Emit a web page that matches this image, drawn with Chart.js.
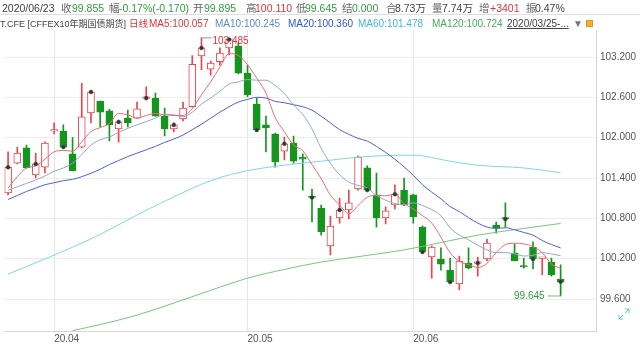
<!DOCTYPE html>
<html>
<head>
<meta charset="utf-8">
<script src="https://cdn.jsdelivr.net/npm/chart.js@4/dist/chart.umd.min.js"></script>
<style>
  html, body { margin: 0; padding: 0; background: #fff; }
  #wrap { position: relative; width: 640px; height: 346px; overflow: hidden;
    font-family: "Liberation Sans", "Noto Sans CJK SC", sans-serif; }
  #wrap canvas { position: absolute; left: 0; top: 0; }
  .t { position: absolute; white-space: nowrap; line-height: 12px; }
  .r1 { top: 2px; font-size: 10.5px; }
  .r2 { top: 18px; font-size: 10px; }
  .lb { color: #666; }
  .g { color: #2f9e3f; }
  .rd { color: #e53238; }
  .dk { color: #444; }
  #sep { position: absolute; left: 0; top: 14px; width: 640px; height: 1px; background: #dedede; }
</style>
</head>
<body>
<div id="wrap">
  <canvas id="chart" width="640" height="346"></canvas>
  <div id="sep"></div>
  <span class="t r1 dk" style="left:2px">2020/06/23</span>
  <span class="t r1 lb" style="left:61px">收</span><span class="t r1 g" style="left:72px">99.855</span>
  <span class="t r1 lb" style="left:109px">幅</span><span class="t r1 g" style="left:119px">-0.17%(-0.170)</span>
  <span class="t r1 lb" style="left:193px">开</span><span class="t r1 g" style="left:204px">99.895</span>
  <span class="t r1 lb" style="left:246px">高</span><span class="t r1 rd" style="left:255px">100.110</span>
  <span class="t r1 lb" style="left:296px">低</span><span class="t r1 g" style="left:305px">99.645</span>
  <span class="t r1 lb" style="left:342px">结</span><span class="t r1 g" style="left:352px">0.000</span>
  <span class="t r1 lb" style="left:386px">合</span><span class="t r1 dk" style="left:395px">8.73万</span>
  <span class="t r1 lb" style="left:432px">量</span><span class="t r1 dk" style="left:442px">7.74万</span>
  <span class="t r1 lb" style="left:479px">增</span><span class="t r1 rd" style="left:490px">+3401</span>
  <span class="t r1 lb" style="left:526px">振</span><span class="t r1 dk" style="left:535px">0.47%</span>

  <span class="t r2 dk" style="left:0px;font-size:9px">T.CFE [CFFEX10年期国债期货]</span>
  <span class="t r2 rd" style="left:129px;font-size:9.5px">日线</span>
  <span class="t r2" style="left:149px;color:#e8323c">MA5:100.057</span>
  <span class="t r2" style="left:215px;color:#5d8cc8">MA10:100.245</span>
  <span class="t r2" style="left:288px;color:#2a55e0">MA20:100.360</span>
  <span class="t r2" style="left:358px;color:#3fbad6">MA60:101.478</span>
  <span class="t r2" style="left:432px;color:#45ad5a">MA120:100.724</span>
  <span class="t r2 dk" style="left:507px;text-decoration:underline">2020/03/25-...</span>
  <span class="t r2" style="left:573px;color:#777">▼</span>
  <div style="position:absolute;left:586px;top:20px;width:5px;height:5px;background:#f2b12e;border:1px solid #e09a10"></div>
</div>
<script>
// daily candles 2020/03/25 .. 2020/06/23 (index 0 = 03/25)
const opens = [101.18, 101.62, 101.85, 101.445, 101.56, 102.10, 102.10, 101.76, 101.86, 102.37,
  102.545, 102.40, 102.13, 102.29, 102.29, 102.585, 102.59, 102.32, 102.13, 102.28,
  102.46, 103.215, 103.02, 103.13, 103.335, 103.365, 102.96, 102.50, 102.19, 102.055,
  101.80, 101.92, 101.71, 101.125, 100.954, 100.389, 100.805, 100.924, 101.237, 101.55,
  101.148, 100.805, 101.00, 101.22, 101.148, 100.67, 100.225, 100.195, 100.03, 99.823,
  100.136, 100.13, 100.195, 100.70, 100.80, 100.285, 100.09, 100.374, 100.205, 100.15, 99.895]
const highs = [101.79, 101.86, 101.89, 101.77, 101.94, 102.22, 102.19, 102.00, 102.81, 102.70,
  102.545, 102.42, 102.26, 102.41, 102.53, 102.755, 102.665, 102.44, 102.22, 102.53,
  103.22, 103.485, 103.14, 103.335, 103.47, 103.41, 103.08, 102.59, 102.32, 102.07,
  102.01, 102.025, 101.76, 101.237, 100.999, 100.835, 101.10, 101.22, 101.73, 101.58,
  101.475, 100.97, 101.30, 101.40, 101.16, 100.69, 100.39, 100.36, 100.21, 100.24,
  100.36, 100.225, 100.49, 100.746, 101.03, 100.42, 100.21, 100.45, 100.21, 100.21, 100.11]
const lows = [101.15, 101.61, 101.55, 101.40, 101.475, 102.055, 101.85, 101.505, 101.85, 102.22,
  102.16, 101.95, 101.935, 102.16, 102.29, 102.56, 102.32, 102.025, 102.085, 102.25,
  102.455, 103.01, 102.93, 103.08, 103.23, 102.95, 102.61, 102.10, 101.79, 101.56,
  101.67, 101.62, 101.22, 100.746, 100.55, 100.255, 100.73, 100.79, 101.22, 101.207,
  100.67, 100.716, 100.94, 100.99, 100.73, 100.285, 99.91, 100.03, 99.838, 99.734,
  100.046, 99.94, 100.165, 100.58, 100.67, 100.165, 100.06, 100.046, 99.957, 99.94, 99.645]
const closes = [101.56, 101.77, 101.55, 101.61, 101.92, 102.11, 101.86, 101.505, 102.31, 102.68,
  102.38, 102.19, 102.235, 102.22, 102.43, 102.59, 102.32, 102.13, 102.19, 102.44,
  103.09, 103.335, 103.11, 103.26, 103.46, 102.96, 102.635, 102.115, 102.145, 101.64,
  101.91, 101.65, 101.68, 101.11, 100.60, 100.686, 100.924, 101.03, 101.713, 101.22,
  100.805, 100.91, 101.16, 101.00, 100.82, 100.30, 100.374, 100.12, 99.853, 100.165,
  100.06, 100.136, 100.433, 100.656, 100.79, 100.165, 100.076, 100.195, 100.21, 99.957, 99.855]

// moving averages as drawn
const ma5 = [101.25, 101.42, 101.55, 101.58, 101.68, 101.79, 101.81, 101.80, 101.94, 102.09,
  102.15, 102.21, 102.36, 102.34, 102.29, 102.33, 102.36, 102.34, 102.33, 102.33,
  102.43, 102.64, 102.83, 103.05, 103.25, 103.225, 103.085, 102.886, 102.663, 102.30,
  102.09, 101.89, 101.805, 101.60, 101.39, 101.145, 101.00, 100.87, 100.99, 101.115,
  101.14, 101.135, 101.16, 101.02, 100.94, 100.84, 100.73, 100.52, 100.29, 100.16,
  100.11, 100.07, 100.13, 100.29, 100.41, 100.43, 100.42, 100.38, 100.29, 100.12, 100.057]
const ma10 = [101.22, 101.27, 101.32, 101.37, 101.43, 101.50, 101.55, 101.62, 101.75, 101.89,
  101.97, 102.01, 102.08, 102.14, 102.19, 102.24, 102.29, 102.35, 102.34, 102.31,
  102.38, 102.50, 102.59, 102.69, 102.80, 102.83, 102.865, 102.855, 102.855, 102.775,
  102.655, 102.485, 102.345, 102.13, 101.84, 101.62, 101.45, 101.34, 101.29, 101.25,
  101.14, 101.07, 101.02, 101.00, 101.03, 100.99, 100.93, 100.84, 100.66, 100.55,
  100.48, 100.40, 100.33, 100.29, 100.29, 100.27, 100.24, 100.25, 100.29, 100.27, 100.245]
const ma20 = [101.08, 101.14, 101.20, 101.25, 101.30, 101.33, 101.36, 101.38, 101.42, 101.47,
  101.53, 101.60, 101.66, 101.72, 101.77, 101.82, 101.87, 101.93, 101.98, 102.04,
  102.12, 102.20, 102.29, 102.38, 102.46, 102.53, 102.57, 102.60, 102.59, 102.54,
  102.52, 102.49, 102.46, 102.41, 102.32, 102.22, 102.12, 102.05, 101.99, 101.95,
  101.87, 101.78, 101.68, 101.565, 101.44, 101.30, 101.19, 101.09, 100.975, 100.90,
  100.81, 100.73, 100.67, 100.65, 100.66, 100.63, 100.59, 100.55, 100.47, 100.41, 100.36]
const ma60Idx = [0, 7, 10, 14, 18, 22, 25, 28, 34, 39, 44, 48, 51, 56, 60]
const ma60 = [99.97, 100.37, 100.56, 100.85, 101.12, 101.36, 101.48, 101.555, 101.65, 101.72, 101.74, 101.65, 101.59, 101.55, 101.478]
const ma120Idx = [7, 10, 14, 18, 22, 26, 30, 34, 38, 43, 47, 51, 56, 60]
const ma120 = [99.13, 99.22, 99.36, 99.54, 99.73, 99.91, 100.04, 100.15, 100.23, 100.33, 100.44, 100.55, 100.65, 100.724]

// axis ticks
const monthIdx = [5, 26, 44]
const monthLabels = ['20.04', '20.05', '20.06']
const yTicks = [99.6, 100.2, 100.8, 101.4, 102.0, 102.6, 103.2]

const upColor = '#e8454f'
const downColor = '#14961e'
const isUp = closes.map((c, i) => c >= opens[i])
const candleColor = isUp.map(u => u ? upColor : downColor)

const pts = (vals, idx) => vals.map((v, i) => ({ x: idx ? idx[i] : i, y: v }))
const maLine = (vals, idx, color) => ({
  type: 'line',
  data: pts(vals, idx),
  borderColor: color,
  borderWidth: 1,
  pointRadius: 0,
  cubicInterpolationMode: 'monotone',
  order: 1
})

Chart.defaults.font.family = '"Liberation Sans", "Noto Sans CJK SC", sans-serif'

const marks = {
  id: 'marks',
  afterDatasetsDraw(chart) {
    const { ctx, scales: { x, y } } = chart
    const hi = highs.indexOf(Math.max(...highs))
    const lo = lows.indexOf(Math.min(...lows))
    ctx.save()
    ctx.font = '10px "Liberation Sans"'
    ctx.lineWidth = 1
    ctx.strokeStyle = '#8a96a8'
    ctx.textBaseline = 'middle'
    // highest
    const hx = x.getPixelForValue(hi), hy = y.getPixelForValue(highs[hi])
    ctx.beginPath(); ctx.moveTo(hx, hy); ctx.lineTo(hx + 10, hy); ctx.stroke()
    ctx.fillStyle = '#e53238'
    ctx.textAlign = 'left'
    ctx.fillText(highs[hi].toFixed(3), hx + 11, hy + 3)
    // lowest
    const lx = x.getPixelForValue(lo), ly = y.getPixelForValue(lows[lo])
    ctx.strokeStyle = '#7bb98a'
    ctx.beginPath(); ctx.moveTo(lx, ly); ctx.lineTo(lx - 13, ly); ctx.stroke()
    ctx.fillStyle = '#2f9e3f'
    ctx.textAlign = 'right'
    ctx.fillText(lows[lo].toFixed(3), lx - 16, ly)
    // expand icon
    ctx.strokeStyle = '#5bc6e0'
    ctx.beginPath()
    ctx.moveTo(619, 319); ctx.lineTo(623, 315)
    ctx.moveTo(625, 313); ctx.lineTo(629, 309)
    ctx.moveTo(629, 309); ctx.lineTo(625, 309)
    ctx.moveTo(629, 309); ctx.lineTo(629, 313)
    ctx.moveTo(619, 319); ctx.lineTo(623, 319)
    ctx.moveTo(619, 319); ctx.lineTo(619, 315)
    ctx.stroke()
    ctx.restore()
  }
}

const dotIdx = closes.map((c, i) => i).filter(i => i % 3 === 0)

new Chart(document.getElementById('chart'), {
  type: 'bar',
  data: {
    datasets: [
      {
        type: 'scatter',
        data: dotIdx.map(i => ({ x: i, y: closes[i] })),
        pointRadius: 2,
        pointBackgroundColor: '#333',
        pointBorderColor: '#555',
        pointBorderWidth: 0.5,
        order: 0
      },
      maLine(ma5, null, '#e86b78'),
      maLine(ma10, null, '#97a6c8'),
      maLine(ma20, null, '#4c5ee0'),
      maLine(ma60, ma60Idx, '#7fd6e8'),
      maLine(ma120, ma120Idx, '#7cc47c'),
      {
        type: 'bar',
        data: opens.map((o, i) => ({ x: i, y: [o, closes[i]] })),
        backgroundColor: isUp.map(u => u ? '#ffffff' : downColor),
        borderColor: candleColor,
        borderWidth: 1,
        borderSkipped: false,
        barThickness: 7,
        minBarLength: 1.5,
        grouped: false,
        order: 2
      },
      {
        type: 'bar',
        data: highs.map((h, i) => ({ x: i, y: [lows[i], h] })),
        backgroundColor: candleColor,
        barThickness: 1,
        grouped: false,
        order: 3
      }
    ]
  },
  options: {
    responsive: false,
    animation: false,
    layout: { padding: { top: 30, left: 0, right: 0, bottom: 0 } },
    plugins: { legend: { display: false }, tooltip: { enabled: false } },
    scales: {
      x: {
        type: 'linear',
        min: -0.39,
        max: 63.84,
        offset: false,
        afterBuildTicks: s => { s.ticks = monthIdx.map(v => ({ value: v })) },
        afterFit: s => { s.height = 15 },
        ticks: {
          callback: (v, i) => monthLabels[i],
          align: 'start',
          padding: 2,
          maxRotation: 0,
          autoSkip: false,
          color: '#555',
          font: { size: 10 }
        },
        grid: { color: '#e6e6e6', drawTicks: false, offset: false },
        border: { color: '#d6d6d6' }
      },
      y: {
        type: 'linear',
        position: 'right',
        min: 99.124,
        max: 103.602,
        beginAtZero: false,
        afterBuildTicks: s => { s.ticks = yTicks.map(v => ({ value: v })) },
        afterFit: s => { s.width = 44 },
        ticks: {
          callback: v => v.toFixed(3),
          padding: 4,
          color: '#555',
          font: { size: 10 }
        },
        grid: { color: '#ececec', drawTicks: false },
        border: { color: '#d6d6d6' }
      }
    }
  },
  plugins: [marks]
})
</script>
</body>
</html>
